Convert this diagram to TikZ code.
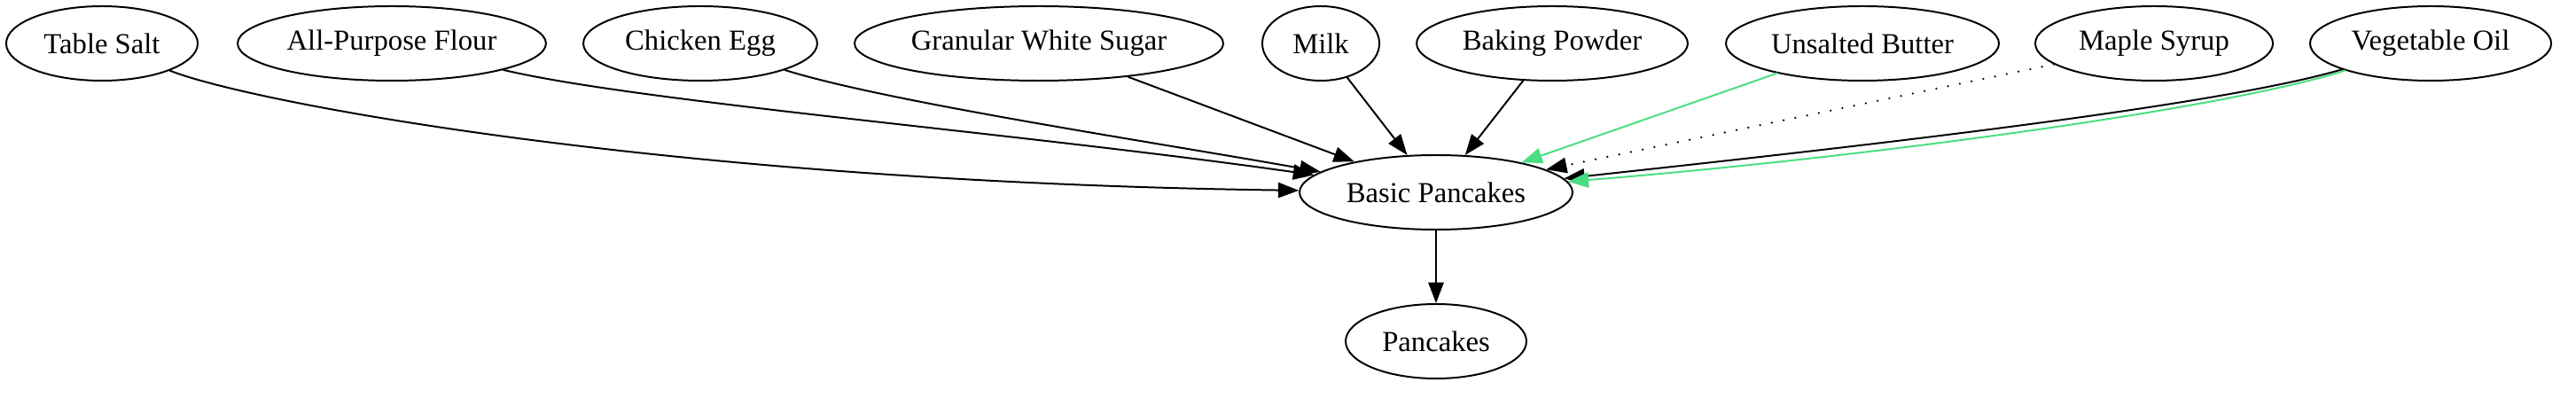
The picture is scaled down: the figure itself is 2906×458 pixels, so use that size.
\documentclass[tikz,border=0pt]{standalone}
\usepackage{fontspec}
\setmainfont{Liberation Serif}
\usetikzlibrary{shapes.geometric,arrows.meta}
\definecolor{buttergreen}{RGB}{74,222,128}
\tikzset{
  item/.style={draw,ellipse,line width=0.85pt,inner sep=0pt,minimum height=36pt,
    font=\fontsize{14pt}{16pt}\selectfont},
  feed/.style={line width=0.85pt,-{Triangle[length=10pt,width=7.4pt]}},
}
\begin{document}
\begin{tikzpicture}[x=0.42857pt,y=-0.42857pt,line cap=round,line join=round]
  \useasboundingbox (0,0) rectangle (2906,458);
  % ingredients
  \node[item,minimum width=92.6pt] (salt) at (115,49) {Table Salt};
  \node[item,minimum width=149.1pt] (flour) at (442,49) {All-Purpose Flour};
  \node[item,minimum width=113.1pt] (egg) at (790,49) {Chicken Egg};
  \node[item,minimum width=178.3pt] (sugar) at (1172,49) {Granular White Sugar};
  \node[item,minimum width=56.6pt] (milk) at (1490,49) {Milk};
  \node[item,minimum width=131.1pt] (powder) at (1751,49) {Baking Powder};
  \node[item,minimum width=132pt] (butter) at (2101,49) {Unsalted Butter};
  \node[item,minimum width=114.9pt] (syrup) at (2430,49) {Maple Syrup};
  \node[item,minimum width=116.6pt] (oil) at (2742,49) {Vegetable Oil};
  % recipe and dish
  \node[item,minimum width=132pt] (basic) at (1620,217) {Basic Pancakes};
  \node[item,minimum width=87.4pt] (dish) at (1620,385) {Pancakes};
  \draw[feed] (salt) .. controls (280,115) and (750,205) .. (basic);
  \draw[feed] (flour) .. controls (720,115) and (1150,150) .. (basic);
  \draw[feed] (egg) .. controls (1000,115) and (1300,160) .. (basic);
  \draw[feed] (sugar) -- (basic);
  \draw[feed] (milk) -- (basic);
  \draw[feed] (powder) -- (basic);
  \draw[feed,buttergreen] (butter) -- (basic);
  \draw[feed,line width=1.1pt,dash pattern=on 0pt off 5.8pt] (syrup) -- (basic);
  \draw[feed] (oil) .. controls (2500,120) and (2100,165) .. (basic);
  \draw[feed,buttergreen] (oil) .. controls (2505,124) and (2100,178) .. (basic);
  \draw[feed] (basic) -- (dish);
\end{tikzpicture}
\end{document}
